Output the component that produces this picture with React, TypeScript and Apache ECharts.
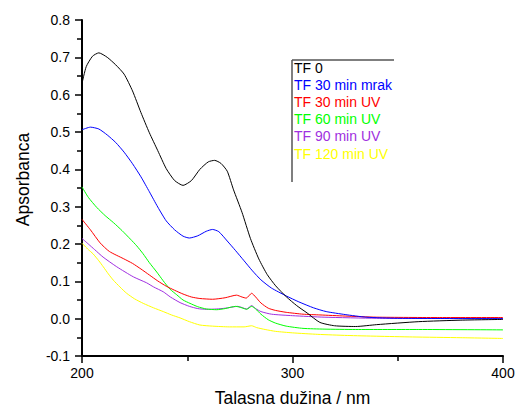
import React, { useEffect, useRef } from "react";
import * as echarts from "echarts";

const seriesNames = [
  "TF 0",
  "TF 30 min mrak",
  "TF 30 min UV",
  "TF 60 min UV",
  "TF 90 min UV",
  "TF 120 min UV",
];
const seriesColors = ["#000000", "#0000ff", "#ff0000", "#00ff00", "#a030e0", "#ffff00"];

const xTicks = [200, 300, 400];
const yTicks = [-0.1, 0, 0.1, 0.2, 0.3, 0.4, 0.5, 0.6, 0.7, 0.8];

const tf0 = [
  [200, 0.63], [202, 0.675], [205, 0.703], [208, 0.712], [212, 0.7], [216, 0.68], [220, 0.655],
  [224, 0.61], [228, 0.552], [232, 0.498], [236, 0.45], [240, 0.402], [244, 0.37], [248, 0.357],
  [252, 0.37], [256, 0.4], [260, 0.42], [263, 0.424], [266, 0.416], [269, 0.395], [272, 0.345],
  [276, 0.285], [280, 0.215], [284, 0.16], [288, 0.118], [292, 0.088], [297, 0.059], [302, 0.035],
  [307, 0.015], [313, -0.01], [320, -0.019], [330, -0.021], [340, -0.016], [360, -0.008],
  [380, -0.004], [400, -0.002],
];
const tf30mrak = [
  [200, 0.506], [204, 0.513], [208, 0.508], [212, 0.492], [216, 0.472], [220, 0.446], [224, 0.415],
  [228, 0.38], [232, 0.34], [236, 0.299], [240, 0.262], [244, 0.238], [248, 0.221], [251, 0.216],
  [255, 0.222], [259, 0.234], [262, 0.239], [265, 0.233], [269, 0.208], [273, 0.182], [277, 0.155],
  [281, 0.128], [285, 0.104], [290, 0.082], [297, 0.061], [303, 0.045], [310, 0.029], [316, 0.019],
  [325, 0.011], [335, 0.004], [350, 0.001], [400, 0.0],
];
const tf30uv = [
  [200, 0.266], [204, 0.238], [208.6, 0.203], [213, 0.18], [219.6, 0.161], [224, 0.148], [228, 0.133],
  [232, 0.117], [236, 0.101], [240, 0.087], [244, 0.076], [248, 0.066], [252, 0.058], [256, 0.054],
  [262, 0.052], [268, 0.056], [273.4, 0.063], [276, 0.058], [278, 0.055], [280.6, 0.068],
  [282.5, 0.058], [285, 0.042], [288.5, 0.028], [292, 0.022], [297, 0.017], [305, 0.012],
  [313, 0.01], [325, 0.007], [340, 0.004], [370, 0.003], [400, 0.003],
];
const tf60uv = [
  [200, 0.353], [203, 0.325], [207, 0.298], [211, 0.276], [215, 0.257], [219, 0.236], [223, 0.213],
  [226, 0.195], [229, 0.174], [232, 0.15], [235.5, 0.125], [238.5, 0.102], [241.8, 0.079],
  [245, 0.064], [248, 0.05], [251.3, 0.041], [255, 0.032], [259, 0.026], [264, 0.024], [268, 0.027],
  [273, 0.033], [276, 0.029], [278.2, 0.025], [280.6, 0.033], [282.5, 0.026], [285, 0.012],
  [288.5, -0.003], [292, -0.012], [297, -0.02], [305, -0.026], [315, -0.028], [330, -0.029],
  [360, -0.029], [400, -0.03],
];
const tf90uv = [
  [200, 0.215], [203, 0.2], [206, 0.185], [210, 0.165], [216.5, 0.139], [224.4, 0.112], [230.7, 0.096],
  [234, 0.085], [238.6, 0.072], [242, 0.058], [246.6, 0.043], [251, 0.033], [255, 0.027],
  [259.2, 0.025], [264, 0.026], [268, 0.028], [274, 0.033], [278.2, 0.026], [280.6, 0.035],
  [282.5, 0.027], [285, 0.019], [290, 0.012], [300, 0.008], [315, 0.004], [340, 0.001], [400, 0.0],
];
const tf120uv = [
  [200, 0.202], [203, 0.185], [205.2, 0.174], [208, 0.155], [210.1, 0.139], [212.5, 0.12],
  [214.9, 0.103], [218, 0.085], [221.2, 0.068], [225, 0.053], [229.1, 0.041], [234, 0.029],
  [238.6, 0.019], [242.5, 0.01], [246.6, 0.002], [251, -0.008], [256, -0.017], [262, -0.02],
  [270, -0.022], [277, -0.022], [280.6, -0.019], [283, -0.024], [287, -0.029], [292, -0.034],
  [300, -0.038], [312, -0.042], [326, -0.045], [340, -0.047], [357, -0.049], [380, -0.051],
  [400, -0.053],
];

const allData = [tf0, tf30mrak, tf30uv, tf60uv, tf90uv, tf120uv];

const FONT = 'Arial, "Liberation Sans", sans-serif';

export default function App() {
  const ref = useRef<HTMLDivElement>(null);
  useEffect(() => {
    if (!ref.current) return;
    const chart = echarts.init(ref.current, undefined, { renderer: "svg" });
    const legendX = 292;
    const legendTop = 60;
    const legendItems = seriesNames.map((name, i) => ({
      type: "text",
      left: legendX + 2,
      top: 61 + i * 17.1,
      style: { text: name, fill: seriesColors[i], font: `14px ${FONT}` },
      silent: true,
    }));
    chart.setOption({
      animation: false,
      backgroundColor: "#ffffff",
      grid: { left: 82, right: 20, top: 20, bottom: 52, containLabel: false },
      xAxis: {
        type: "value",
        min: xTicks[0],
        max: xTicks[xTicks.length - 1],
        interval: 100,
        name: "Talasna dužina / nm",
        nameLocation: "middle",
        nameGap: 33,
        nameTextStyle: { fontFamily: FONT, fontSize: 17.5, color: "#000" },
        axisLine: { show: true, onZero: false, lineStyle: { color: "#000", width: 2 } },
        axisTick: { show: true, inside: false, length: 7, lineStyle: { color: "#000", width: 1.5 } },
        minorTick: { show: true, splitNumber: 2, length: 5, lineStyle: { color: "#000", width: 1.5 } },
        axisLabel: { fontFamily: FONT, fontSize: 14, color: "#000", margin: 10 },
        splitLine: { show: false },
      },
      yAxis: {
        type: "value",
        min: yTicks[0],
        max: yTicks[yTicks.length - 1],
        interval: 0.1,
        name: "Apsorbanca",
        nameLocation: "middle",
        nameGap: 50,
        nameTextStyle: { fontFamily: FONT, fontSize: 17.5, color: "#000", padding: [0, 0, 0, 17] },
        axisLine: { show: true, onZero: false, lineStyle: { color: "#000", width: 2 } },
        axisTick: { show: true, inside: false, length: 7, lineStyle: { color: "#000", width: 1.5 } },
        minorTick: { show: true, splitNumber: 2, length: 5, lineStyle: { color: "#000", width: 1.5 } },
        axisLabel: {
          fontFamily: FONT,
          fontSize: 14,
          color: "#000",
          margin: 12,
          formatter: (v: number) => v.toFixed(1),
        },
        splitLine: { show: false },
      },
      series: allData.map((d, i) => ({
        name: seriesNames[i],
        type: "line",
        data: d,
        showSymbol: false,
        smooth: 0.2,
        lineStyle: { color: seriesColors[i], width: 1 },
        itemStyle: { color: seriesColors[i] },
        z: 10 - i,
      })),
      graphic: [
        {
          type: "line",
          shape: { x1: legendX, y1: legendTop, x2: 394, y2: legendTop },
          style: { stroke: "#555", lineWidth: 1.5 },
          silent: true,
        },
        {
          type: "line",
          shape: { x1: legendX, y1: legendTop, x2: legendX, y2: 182 },
          style: { stroke: "#555", lineWidth: 1.5 },
          silent: true,
        },
        ...legendItems,
      ],
    });
    return () => chart.dispose();
  }, []);
  return (
    <div
      ref={ref}
      style={{ position: "absolute", left: 0, top: 0, width: 523, height: 412, background: "#fff" }}
    />
  );
}
